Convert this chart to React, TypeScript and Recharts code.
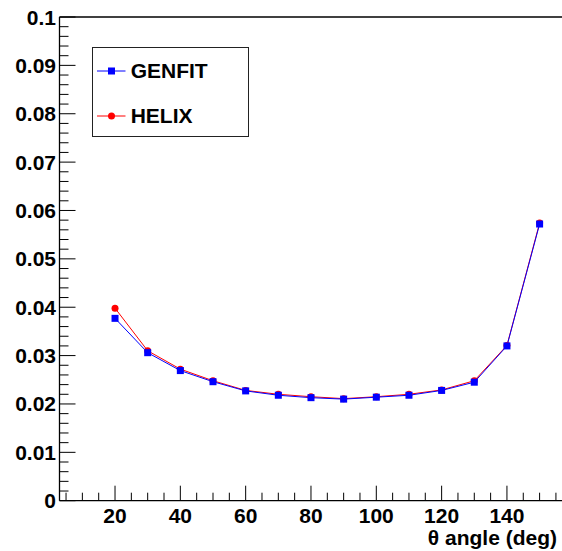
import React from "react";
import { LineChart, Line, XAxis, YAxis, ReferenceLine, Legend } from "recharts";

const angles = [20, 30, 40, 50, 60, 70, 80, 90, 100, 110, 120, 130, 140, 150];
const genfit = [0.0377, 0.0306, 0.0269, 0.0246, 0.0227, 0.0218, 0.0213, 0.021, 0.0214, 0.0218, 0.0228, 0.0245, 0.032, 0.0572];
const helix = [0.0398, 0.031, 0.0272, 0.0248, 0.0228, 0.022, 0.0215, 0.0211, 0.0215, 0.022, 0.0229, 0.0248, 0.0321, 0.0574];

const xMajorTicks = [20, 40, 60, 80, 100, 120, 140];
const xTicks = [5, 10, 15, 20, 25, 30, 35, 40, 45, 50, 55, 60, 65, 70, 75, 80, 85, 90, 95, 100, 105, 110, 115, 120, 125, 130, 135, 140, 145, 150, 155];
const yMajorTicks = [0, 0.01, 0.02, 0.03, 0.04, 0.05, 0.06, 0.07, 0.08, 0.09, 0.1];
const yTicks = Array.from({ length: 51 }, (_, i) => Number((i * 0.002).toFixed(3)));

const data = angles.map((a, i) => ({ angle: a, GENFIT: genfit[i], HELIX: helix[i] }));

const FONT = '"Liberation Sans", Arial, Helvetica, sans-serif';
const legendOrder = ["GENFIT", "HELIX"];

const isYMajor = (v: number) => yMajorTicks.some((m) => Math.abs(m - v) < 1e-9);

const XTick = (props: any) => {
  const { x, y, payload } = props;
  const v = payload.value;
  const major = xMajorTicks.includes(v);
  return (
    <g>
      <line x1={x} x2={x} y1={y} y2={y - (major ? 15 : 8)} stroke="#000" strokeWidth={1} />
      {major && (
        <text x={x} y={y + 22} textAnchor="middle" fontFamily={FONT} fontWeight="bold" fontSize={21} fill="#000">
          {v}
        </text>
      )}
    </g>
  );
};

const YTick = (props: any) => {
  const { x, y, payload } = props;
  const v = payload.value;
  const major = isYMajor(v);
  return (
    <g>
      <line x1={x} x2={x + (major ? 16 : 9)} y1={y} y2={y} stroke="#000" strokeWidth={1} />
      {major && (
        <text x={x - 3.5} y={y + 7.5} textAnchor="end" fontFamily={FONT} fontWeight="bold" fontSize={21} fill="#000">
          {String(Number(v.toFixed(2)))}
        </text>
      )}
    </g>
  );
};

const SquareDot = (props: any) => {
  const { cx, cy, index } = props;
  if (cx == null || cy == null) return <g key={`s-${index}`} />;
  return <rect key={`s-${index}`} x={cx - 3.5} y={cy - 3.5} width={7} height={7} fill="#0000ff" />;
};

const renderLegend = (props: any) => {
  const payload = [...(props.payload || [])].sort(
    (a: any, b: any) => legendOrder.indexOf(a.value) - legendOrder.indexOf(b.value)
  );
  return (
    <div
      style={{
        width: 157,
        height: 90,
        boxSizing: "border-box",
        border: "1px solid #222",
        background: "#fff",
        position: "relative",
      }}
    >
      {payload.map((p: any, i: number) => (
        <div key={p.value} style={{ position: "absolute", left: 4, top: 23 + i * 45 - 12, height: 24, display: "flex", alignItems: "center" }}>
          <svg width={30} height={12} style={{ display: "block" }}>
            <line x1={0} x2={28.5} y1={6} y2={6} stroke={p.color} strokeWidth={1} />
            {p.value === "GENFIT" ? (
              <rect x={11} y={2.5} width={7} height={7} fill={p.color} />
            ) : (
              <circle cx={14.5} cy={6} r={3.5} fill={p.color} />
            )}
          </svg>
          <span style={{ marginLeft: 4, fontFamily: FONT, fontWeight: "bold", fontSize: 21, color: "#000", lineHeight: "24px" }}>
            {p.value}
          </span>
        </div>
      ))}
    </div>
  );
};

export default function App() {
  return (
    <div style={{ position: "fixed", left: 0, top: 0, width: 562, height: 551, overflow: "hidden", background: "#fff" }}>
      <LineChart width={570} height={551} data={data} margin={{ top: 17, right: 1, bottom: 0.3, left: 0.5 }}>
        <XAxis
          dataKey="angle"
          type="number"
          domain={[3, 159]}
          ticks={xTicks}
          interval={0}
          tick={<XTick />}
          tickLine={false}
          tickSize={0}
          tickMargin={0}
          height={50}
          axisLine={{ stroke: "#000", strokeWidth: 1.3 }}
          allowDataOverflow
        />
        <YAxis
          type="number"
          domain={[0, 0.1]}
          ticks={yTicks}
          interval={0}
          tick={<YTick />}
          tickLine={false}
          tickSize={0}
          tickMargin={0}
          width={59}
          axisLine={{ stroke: "#000", strokeWidth: 1.3 }}
          allowDataOverflow
        />
        <ReferenceLine y={0.1} stroke="#000" strokeWidth={1.3} ifOverflow="visible" />
        <Legend
          layout="vertical"
          align="center"
          verticalAlign="middle"
          content={renderLegend}
          wrapperStyle={{ position: "absolute", left: 91.7, top: 47.3, width: 157, height: 90 }}
        />
        <Line dataKey="HELIX" name="HELIX" stroke="#ff0000" strokeWidth={1} dot={{ r: 3.5, fill: "#ff0000", stroke: "none" }} isAnimationActive={false} />
        <Line dataKey="GENFIT" name="GENFIT" stroke="#0000ff" strokeWidth={1} dot={<SquareDot />} isAnimationActive={false} />
      </LineChart>
      <div
        style={{
          position: "absolute",
          right: 5,
          top: 527,
          fontFamily: FONT,
          fontWeight: "bold",
          fontSize: 21,
          lineHeight: "22px",
          color: "#000",
          whiteSpace: "nowrap",
        }}
      >
        θ angle (deg)
      </div>
    </div>
  );
}
